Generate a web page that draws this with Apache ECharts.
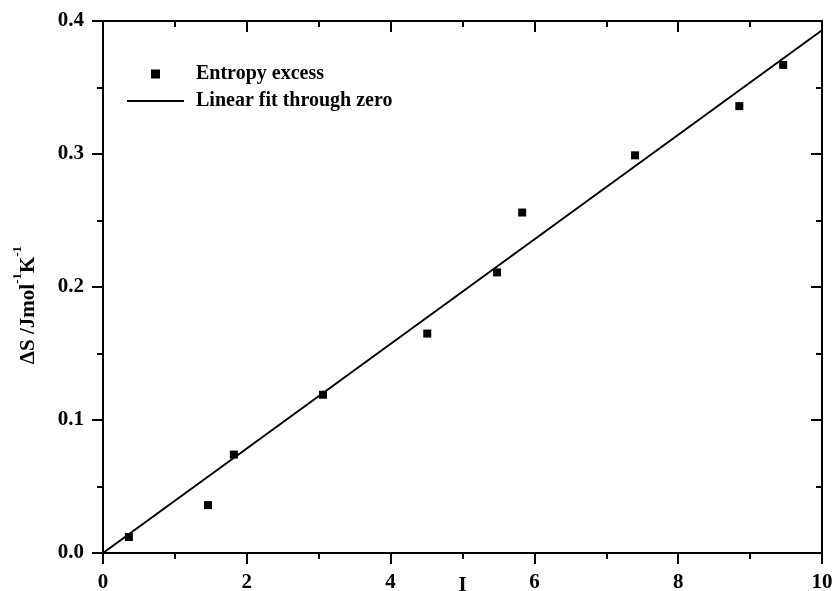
<!DOCTYPE html>
<html>
<head>
<meta charset="utf-8">
<script src="https://cdn.jsdelivr.net/npm/echarts@6/dist/echarts.min.js"></script>
<style>
  html, body { margin: 0; padding: 0; background: #fff; }
  #chart { width: 834px; height: 591px; }
</style>
</head>
<body>
<div id="chart"></div>
<script>
// measured points (I, dS)
const ionicStrength = [0.36, 1.46, 1.82, 3.06, 4.51, 5.48, 5.83, 7.40, 8.85, 9.46];
const entropyExcess = [0.012, 0.036, 0.074, 0.119, 0.165, 0.211, 0.256, 0.299, 0.336, 0.367];
// fit line end points
const fitX = [0, 10];
const fitY = [0, 0.393];

const FONT = "Liberation Serif";
const labelStyle = { fontFamily: FONT, fontWeight: "bold", fontSize: 21, color: "#000" };

const chart = echarts.init(document.getElementById("chart"));

const lineStyle = { color: "#000", width: 2 };

// shared tick setup, outward for bottom/left, inward for top/right
const axisBits = (inside) => ({
  axisLine: { onZero: false, lineStyle },
  axisTick: { inside, length: 11, lineStyle },
  minorTick: { show: true, splitNumber: 2, length: 6, lineStyle },
  splitLine: { show: false },
});

chart.setOption({
  animation: false,
  backgroundColor: "#fff",
  grid: { left: 103, right: 12, top: 21, bottom: 38, outerBoundsMode: "none", containLabel: false },
  legend: {
    orient: "vertical",
    left: 126,
    top: 64,
    padding: 0,
    itemWidth: 57,
    itemHeight: 9,
    itemGap: 7,
    symbolKeepAspect: true,
    textStyle: { ...labelStyle, fontSize: 20, padding: [0, 0, 0, 7] },
    data: [
      { name: "Entropy excess", icon: "path://M0,0H10V10H0Z" },
      { name: "Linear fit through zero", itemStyle: { opacity: 0 } },
    ],
  },
  xAxis: [
    {
      type: "value",
      position: "bottom",
      min: 0,
      max: 10,
      interval: 2,
      name: "I",
      nameLocation: "middle",
      nameGap: 22,
      nameMoveOverlap: false,
      nameTextStyle: labelStyle,
      axisLabel: { ...labelStyle, margin: 19 },
      ...axisBits(false),
    },
    {
      type: "value",
      position: "top",
      min: 0,
      max: 10,
      interval: 2,
      axisLabel: { show: false },
      ...axisBits(true),
    },
  ],
  yAxis: [
    {
      type: "value",
      position: "left",
      min: 0,
      max: 0.4,
      interval: 0.1,
      axisLabel: { ...labelStyle, margin: 19, formatter: (v) => v.toFixed(1) },
      ...axisBits(false),
    },
    {
      type: "value",
      position: "right",
      min: 0,
      max: 0.4,
      interval: 0.1,
      axisLabel: { show: false },
      ...axisBits(true),
    },
  ],
  graphic: [
    {
      type: "text",
      x: 25,
      y: 305,
      rotation: Math.PI / 2,
      style: {
        text: "{n|ΔS /Jmol}{sup|-1}{n|K}{sup|-1}",
        fill: "#000",
        align: "center",
        verticalAlign: "middle",
        rich: {
          n: { fontFamily: FONT, fontWeight: "bold", fontSize: 21, lineHeight: 28, verticalAlign: "bottom" },
          sup: { fontFamily: FONT, fontWeight: "bold", fontSize: 13, lineHeight: 13, verticalAlign: "top" },
        },
      },
    },
  ],
  series: [
    {
      name: "Entropy excess",
      type: "scatter",
      symbol: "rect",
      symbolSize: 8,
      itemStyle: { color: "#000", opacity: 1 },
      data: ionicStrength.map((x, i) => [x, entropyExcess[i]]),
      z: 3,
    },
    {
      name: "Linear fit through zero",
      type: "line",
      symbol: "none",
      lineStyle: { color: "#000", width: 2 },
      itemStyle: { color: "#000" },
      data: fitX.map((x, i) => [x, fitY[i]]),
    },
  ],
});
</script>
</body>
</html>
